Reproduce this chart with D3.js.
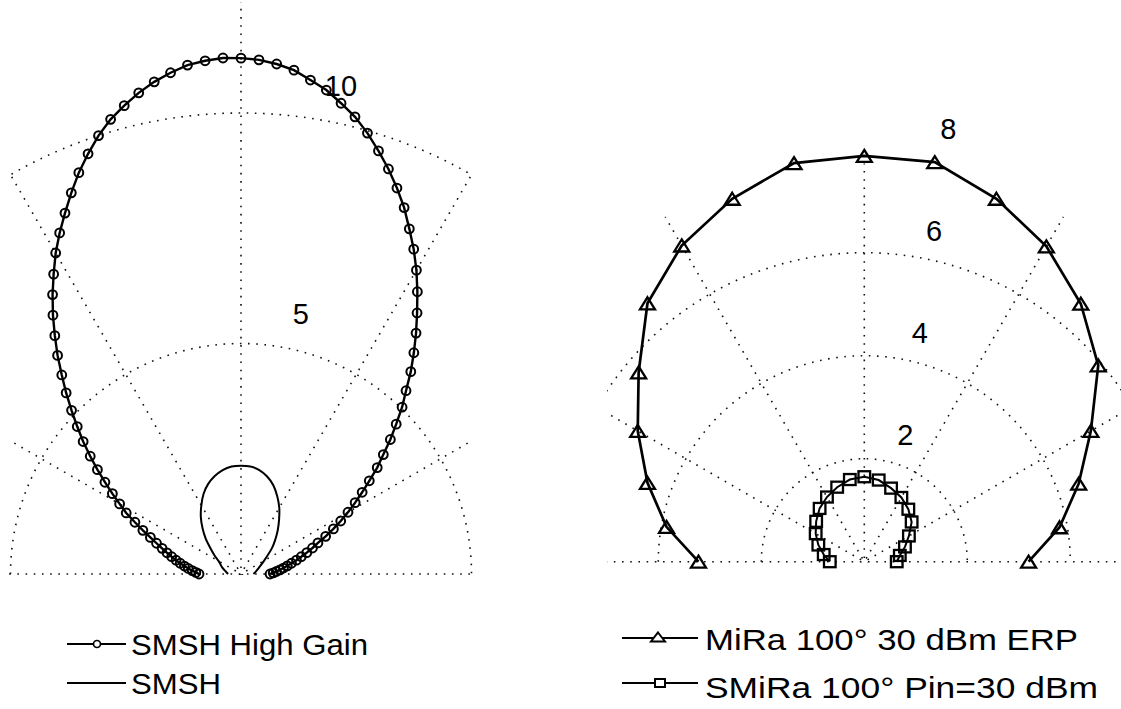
<!DOCTYPE html>
<html>
<head>
<meta charset="utf-8">
<script src="https://cdn.jsdelivr.net/npm/d3@7"></script>
<style>
  body { margin: 0; background: #fff; }
  svg { display: block; background: #fff; }
  text { font-family: "Liberation Sans", Arial, Helvetica, sans-serif; fill: #000; }
</style>
</head>
<body>
<svg id="chart" width="1121" height="709"></svg>
<script>
// ---------------- DATA ----------------
// Left polar plot
const hgAngles = [0,2,4,6,8,10,12,14,16,18,20,22,24,26,28,30,32,34,36,38,40,42,44,46,48,50,52,54,56,58,
  60,62,64,66,68,70,72,74,76,78,80,82,84,86,88,90,92,94,96,98,100,102,104,106,108,110,112,114,116,118,
  120,122,124,126,128,130,132,134,136,138,140,142,144,146,148,150,152,154,156,158,160,162,164,166,168,170,172,174,176,178,180];
const hgValues = [0.63,0.70,0.77,0.85,0.93,1.02,1.12,1.24,1.36,1.50,1.65,1.80,2.01,2.23,2.45,2.68,2.92,3.17,3.44,3.75,
  4.03,4.36,4.68,5.03,5.35,5.73,6.09,6.46,6.83,7.22,7.61,7.98,8.33,8.70,9.03,9.35,9.65,9.95,10.22,10.44,
  10.66,10.82,10.99,11.09,11.16,11.19,11.20,11.16,11.10,10.98,10.84,10.67,10.47,10.26,10.00,9.70,9.39,9.05,8.71,8.38,
  8.04,7.67,7.31,6.94,6.56,6.19,5.81,5.46,5.11,4.78,4.47,4.15,3.85,3.56,3.29,3.04,2.82,2.56,2.33,2.12,
  1.95,1.80,1.67,1.55,1.44,1.34,1.24,1.15,1.06,0.98,0.91];
const smshAngles = [0,10,20,30,40,45,50,55,60,65,70,75,80,85,90,95,100,105,110,115,120,125,130,135,140,145,150,160,170,180];
const smshValues = [0.27,0.33,0.42,0.58,0.88,1.05,1.24,1.44,1.66,1.86,2.05,2.19,2.29,2.34,2.35,2.34,2.29,2.20,2.08,1.92,
  1.72,1.52,1.30,1.08,0.86,0.70,0.56,0.44,0.34,0.28];
const leftTicks = [5, 10];
const leftLegend = ["SMSH High Gain", "SMSH"];

// Right polar plot
const miraAngles = [0,10,20,30,40,50,60,70,80,90,100,110,120,130,140,150,160,170,180];
const miraValues = [3.19,3.85,4.43,5.08,5.93,6.54,7.07,7.50,7.88,7.88,7.86,7.50,7.09,6.55,5.72,5.08,4.48,3.90,3.22];
const smiraAngles = [0,10,20,30,40,50,60,70,80,90,100,110,120,130,140,150,160,170,180];
const smiraValues = [0.63,0.70,0.84,1.00,1.20,1.33,1.44,1.52,1.61,1.65,1.62,1.54,1.45,1.35,1.22,1.09,0.95,0.80,0.67];
const rightTicks = [2, 4, 6, 8];
const rightLegend = ["MiRa 100° 30 dBm ERP", "SMiRa 100° Pin=30 dBm"];

const spokeAngles = [0, 30, 60, 90, 120, 150];

// ---------------- DRAWING ----------------
const svg = d3.select("#chart");
const rad = d => d * Math.PI / 180;

function polarPanel(cfg) {
  const g = svg.append("g").attr("transform", `translate(${cfg.cx},${cfg.cy})`);
  const r = d3.scaleLinear().domain([0, cfg.unitDomain]).range([0, cfg.unitRange]);
  const clipId = cfg.id + "-clip";
  svg.append("clipPath").attr("id", clipId)
    .append("rect")
    .attr("x", cfg.clip[0] - cfg.cx).attr("y", cfg.clip[1] - cfg.cy)
    .attr("width", cfg.clip[2] - cfg.clip[0]).attr("height", cfg.clip[3] - cfg.clip[1]);
  const grid = g.append("g").attr("clip-path", `url(#${clipId})`)
    .attr("fill", "none").attr("stroke", "#111").attr("stroke-width", 1.6)
    .attr("stroke-dasharray", "1.6 6.6");
  // circles
  cfg.ticks.filter(t => t <= cfg.rmax).forEach(t => {
    const p = d3.path();
    p.arc(0, 0, r(t), Math.PI, 2 * Math.PI);
    grid.append("path").attr("d", p.toString());
  });
  // spokes (full diameters, lower half clipped away)
  spokeAngles.forEach(a => {
    const R = r(cfg.rmax);
    grid.append("line")
      .attr("x1", -R * Math.cos(rad(a))).attr("y1", R * Math.sin(rad(a)))
      .attr("x2", R * Math.cos(rad(a))).attr("y2", -R * Math.sin(rad(a)));
  });
  // tick labels (MATLAB-style at 82 degrees)
  const rinc = cfg.ticks[1] - cfg.ticks[0];
  cfg.ticks.forEach(t => {
    const rr = r(t + rinc / 20);
    const x = rr * Math.cos(rad(82)), y = -rr * Math.sin(rad(82));
    g.append("text").attr("x", x + 18).attr("y", y - 10)
      .attr("font-size", 29).attr("text-anchor", "start").text(t);
  });
  return { g, r };
}

function radialLine(r) {
  return d3.lineRadial()
    .angle(d => rad(90 - d[0]))
    .radius(d => r(d[1]));
}
function pt(r, a, v) {
  return [r(v) * Math.cos(rad(a)), -r(v) * Math.sin(rad(a))];
}

// ----- Left panel -----
const L = polarPanel({ id: "left", cx: 241, cy: 574, unitDomain: 10, unitRange: 461,
  ticks: leftTicks, rmax: 12.5, clip: [9, 2, 473, 575] });

const smshData = smshAngles.map((a, i) => [a, smshValues[i]]);
L.g.append("path").attr("d", radialLine(L.r).curve(d3.curveCatmullRom)(smshData))
  .attr("fill", "none").attr("stroke", "#000").attr("stroke-width", 2);

const hgData = hgAngles.map((a, i) => [a, hgValues[i]]);
L.g.append("path").attr("d", radialLine(L.r)(hgData))
  .attr("fill", "none").attr("stroke", "#000").attr("stroke-width", 2.4);
L.g.append("g").selectAll("circle").data(hgData).join("circle")
  .attr("cx", d => pt(L.r, d[0], d[1])[0]).attr("cy", d => pt(L.r, d[0], d[1])[1])
  .attr("r", 4.4).attr("fill", "none").attr("stroke", "#000").attr("stroke-width", 2);

// ----- Right panel -----
const R = polarPanel({ id: "right", cx: 864.3, cy: 561.7, unitDomain: 6, unitRange: 309,
  ticks: rightTicks, rmax: 7.73, clip: [607, 2, 1121, 563] });

const miraData = miraAngles.map((a, i) => [a, miraValues[i]]);
const smiraData = smiraAngles.map((a, i) => [a, smiraValues[i]]);

R.g.append("path").attr("d", radialLine(R.r)(miraData))
  .attr("fill", "none").attr("stroke", "#000").attr("stroke-width", 2.7);
const triPath = (w, h) => `M0,${-h / 2}L${w / 2},${h / 2}L${-w / 2},${h / 2}Z`;
R.g.append("g").selectAll("path").data(miraData).join("path")
  .attr("transform", d => { const p = pt(R.r, d[0], d[1]); return `translate(${p[0]},${p[1]})`; })
  .attr("d", triPath(15, 12)).attr("fill", "none").attr("stroke", "#000").attr("stroke-width", 2.3);

R.g.append("path").attr("d", radialLine(R.r)(smiraData))
  .attr("fill", "none").attr("stroke", "#000").attr("stroke-width", 2);
R.g.append("g").selectAll("rect").data(smiraData).join("rect")
  .attr("x", d => pt(R.r, d[0], d[1])[0] - 5.8).attr("y", d => pt(R.r, d[0], d[1])[1] - 5.5)
  .attr("width", 11.6).attr("height", 11).attr("fill", "none").attr("stroke", "#000").attr("stroke-width", 2.3);

// ----- Legends -----
const legL = svg.append("g");
[[644, 655, 237, "circle"], [683, 694, 90, null]].forEach((c, i) => {
  legL.append("line").attr("x1", 67).attr("x2", 126).attr("y1", c[0]).attr("y2", c[0])
    .attr("stroke", "#000").attr("stroke-width", 1.8);
  if (c[3]) legL.append("circle").attr("cx", 97).attr("cy", c[0]).attr("r", 3.5)
    .attr("fill", "#fff").attr("stroke", "#000").attr("stroke-width", 1.7);
  legL.append("text").attr("x", 131).attr("y", c[1]).attr("font-size", 29)
    .attr("textLength", c[2]).attr("lengthAdjust", "spacingAndGlyphs").text(leftLegend[i]);
});

const legR = svg.append("g");
[[638, 650, 373, "tri"], [683, 698, 393, "sq"]].forEach((c, i) => {
  legR.append("line").attr("x1", 622).attr("x2", 698).attr("y1", c[0]).attr("y2", c[0])
    .attr("stroke", "#000").attr("stroke-width", 2.2);
  if (c[3] === "tri") legR.append("path").attr("transform", `translate(658,${c[0] - 1})`)
    .attr("d", triPath(14, 9)).attr("fill", "#fff").attr("stroke", "#000").attr("stroke-width", 2);
  else legR.append("rect").attr("x", 655).attr("y", c[0] - 4).attr("width", 10).attr("height", 8)
    .attr("fill", "#fff").attr("stroke", "#000").attr("stroke-width", 2);
  legR.append("text").attr("x", 705).attr("y", c[1]).attr("font-size", 29)
    .attr("textLength", c[2]).attr("lengthAdjust", "spacingAndGlyphs").text(rightLegend[i]);
});
</script>
</body>
</html>
